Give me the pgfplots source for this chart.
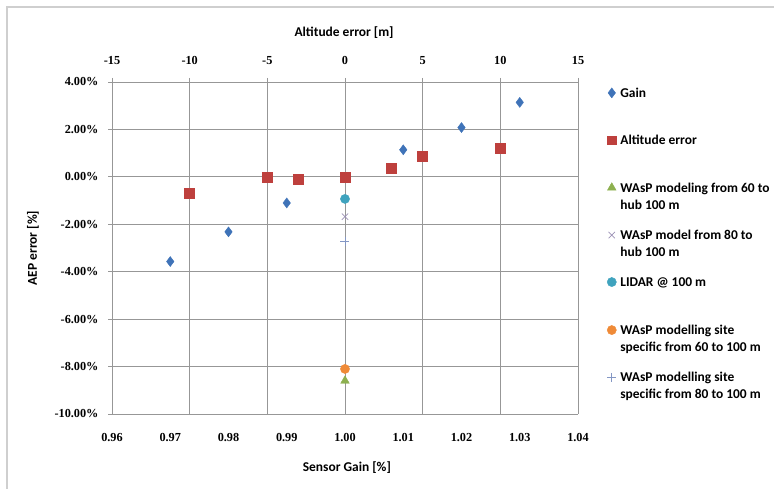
\documentclass[border=0pt]{standalone}
\usepackage{pgfplots}
\pgfplotsset{compat=1.18}
\usepackage{fontspec}
\setmainfont{Carlito}
\newfontfamily\tickfont{Liberation Serif}
\definecolor{cgain}{HTML}{3F73B8}
\definecolor{calt}{HTML}{BE403D}
\definecolor{cgreen}{HTML}{8DB04F}
\definecolor{ccross}{HTML}{9B91B5}
\definecolor{cteal}{HTML}{3FA3BE}
\definecolor{corange}{HTML}{EF8A37}
\definecolor{cplus}{HTML}{8497C4}
\definecolor{gridc}{HTML}{979797}
\definecolor{framec}{HTML}{CFCFCF}
\begin{document}
\begin{tikzpicture}
\useasboundingbox (0bp,0bp) rectangle (774bp,489bp);
\draw[framec, line width=1.3bp] (7bp,0bp) -- (7bp,482bp) -- (774bp,482bp);
% background axis: top x axis, grids, altitude error
\begin{axis}[
  at={(112bp,75bp)}, anchor=south west,
  width=466bp, height=332bp, scale only axis,
  xmin=-15, xmax=15, ymin=-10, ymax=4,
  axis x line*=top, axis y line*=left,
  xtick={-15,-10,-5,0,5,10,15},
  ytick={-10,-8,-6,-4,-2,0,2,4},
  yticklabels={},
  ytick style={draw=none},
  xmajorgrids, ymajorgrids,
  grid style={gridc, line width=0.8bp},
  axis line style={gridc, line width=0.8bp},
  tick style={gridc, line width=0.8bp},
  major tick length=4bp, xtick align=outside,
  /pgf/number format/assume math mode=true,
  xticklabel={\pgfmathprintnumber{\tick}},
  xticklabel style={yshift=10bp},
  ticklabel style={font=\tickfont\bfseries\fontsize{12.3}{14}\selectfont},
  xlabel={Altitude error [m]},
  xlabel style={at={(axis description cs:0.498,1.1476)}, anchor=center, font=\bfseries\fontsize{13.5}{15}\selectfont},
  clip=false,
]
\addplot[only marks, mark=square*, mark size=5bp, draw=calt, fill=calt] coordinates {
(-10,-0.68) (-5,0.0) (-3,-0.08) (0,0.0) (3,0.36) (5,0.86) (10,1.20)};
\end{axis}
% foreground axis: bottom x axis (sensor gain), y axis, legend
\begin{axis}[
  at={(112bp,75bp)}, anchor=south west,
  width=466bp, height=332bp, scale only axis,
  xmin=0.96, xmax=1.04, ymin=-10, ymax=4,
  axis x line*=bottom, axis y line*=left,
  xtick={0.96,0.97,0.98,0.99,1.00,1.01,1.02,1.03,1.04},
  ytick={-10,-8,-6,-4,-2,0,2,4},
  axis line style={gridc, line width=0.8bp},
  tick style={gridc, line width=0.8bp},
  xtick style={draw=none},
  major tick length=4bp, ytick align=outside,
  /pgf/number format/assume math mode=true,
  xticklabel={\pgfmathprintnumber[fixed,fixed zerofill,precision=2]{\tick}},
  yticklabel={\pgfmathprintnumber[fixed,fixed zerofill,precision=2]{\tick}\%},
  ticklabel style={font=\tickfont\bfseries\fontsize{12.3}{14}\selectfont},
  xticklabel style={yshift=-16bp},
  yticklabel style={xshift=-6bp},
  xlabel={Sensor Gain [\%]},
  xlabel style={at={(axis description cs:0.504,-0.16)}, anchor=center, font=\bfseries\fontsize{13.5}{15}\selectfont},
  ylabel={AEP error [\%]},
  ylabel style={at={(axis description cs:-0.1695,0.5)}, anchor=center, font=\bfseries\fontsize{13.5}{15}\selectfont},
  clip=false,
  legend image code/.code={\draw[#1] plot coordinates {(0bp,4.4bp)};},
  legend style={at={(axis description cs:1.0622,0.983)}, anchor=north west,
    draw=none, fill=none, inner sep=0pt, row sep=0pt, column sep=4bp,
    font=\bfseries\fontsize{13.5}{17}\selectfont,
    cells={anchor=base west},
    nodes={inner sep=0pt, text depth=}},
]
\addplot[only marks, mark=diamond*, mark size=5bp, draw=cgain, fill=cgain] coordinates {
(0.97,-3.57) (0.98,-2.32) (0.99,-1.10) (1.01,1.14) (1.02,2.08) (1.03,3.14)};
\addlegendentry{\parbox[t][47.4bp][t]{160bp}{Gain}}
\addlegendimage{only marks, mark=square*, mark size=4.2bp, draw=calt, fill=calt}
\addlegendentry{\parbox[t][47.4bp][t]{160bp}{Altitude error}}
\addplot[only marks, mark=triangle*, mark size=5bp, draw=cgreen, fill=cgreen] coordinates {(1.00,-8.6)};
\addlegendentry{\parbox[t][47.4bp][t]{160bp}{WAsP modeling from 60 to\\hub 100 m}}
\addplot[only marks, mark=x, mark size=4.5bp, draw=ccross, line width=0.7bp] coordinates {(1.00,-1.68)};
\addlegendentry{\parbox[t][47.4bp][t]{160bp}{WAsP model from 80 to\\hub 100 m}}
\addplot[only marks, mark=*, mark size=4.6bp, draw=cteal, fill=cteal] coordinates {(1.00,-0.93)};
\addlegendentry{\parbox[t][47.4bp][t]{160bp}{LIDAR @ 100 m}}
\addplot[only marks, mark=*, mark size=4.6bp, draw=corange, fill=corange] coordinates {(1.00,-8.1)};
\addlegendentry{\parbox[t][47.4bp][t]{160bp}{WAsP modelling site\\specific from 60 to 100 m}}
\addplot[only marks, mark=+, mark size=4.5bp, draw=cplus, line width=0.7bp] coordinates {(1.00,-2.74)};
\addlegendentry{\parbox[t][47.4bp][t]{160bp}{WAsP modelling site\\specific from 80 to 100 m}}
\end{axis}
\end{tikzpicture}
\end{document}
